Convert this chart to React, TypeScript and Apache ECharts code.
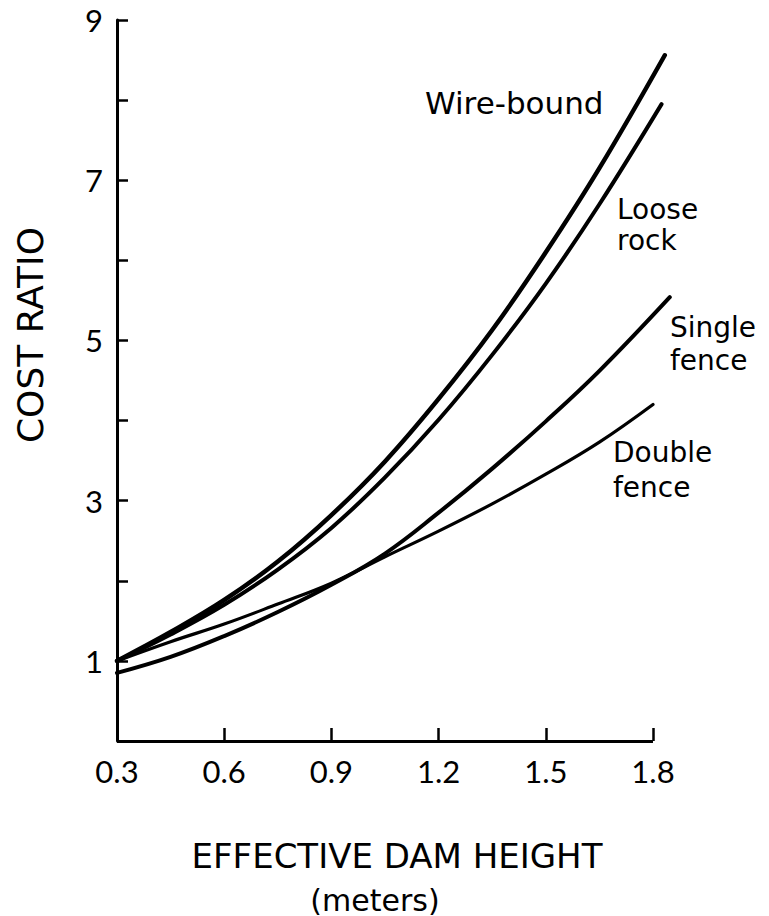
import React, { useEffect, useRef } from "react";
import * as echarts from "echarts";

// Effective dam height (m) sample points, and cost ratios
const heightGrid = [0.3, 0.45, 0.6, 0.75, 0.9, 1.05, 1.2, 1.35, 1.5, 1.65];
const wireBound = [1.0, 1.36, 1.76, 2.24, 2.82, 3.49, 4.27, 5.13, 6.1, 7.15];
const wireBoundEnd = [1.833, 8.56];
const looseRock = [1.0, 1.33, 1.7, 2.14, 2.66, 3.29, 4.01, 4.82, 5.71, 6.7];
const looseRockEnd = [1.824, 7.95];
const singleFence = [0.85, 1.05, 1.31, 1.61, 1.95, 2.34, 2.85, 3.4, 3.99, 4.62];
const singleFenceEnd = [1.847, 5.54];
const doubleFence = [1.0, 1.24, 1.46, 1.71, 1.97, 2.3, 2.62, 2.96, 3.33, 3.73];
const doubleFenceEnd = [1.8, 4.2];

const xTicks = [0.3, 0.6, 0.9, 1.2, 1.5, 1.8];
const yTickLabels = ["1", "3", "5", "7", "9"];

const seriesNames = ["Wire-bound", "Loose rock", "Single fence", "Double fence"];

const build = (vals: number[], end: number[]) =>
  heightGrid.map((x, i) => [x, vals[i]]).concat([end]);

export default function App() {
  const ref = useRef<HTMLDivElement>(null);
  useEffect(() => {
    document.body.style.margin = "0";
    if (!ref.current) return;
    const chart = echarts.init(ref.current, null, { renderer: "svg" });
    const labelFont = "DejaVu Sans";
    const lineSeries = (name: string, data: number[][], width: number, extra: any = {}) => ({
      name,
      type: "line",
      data,
      smooth: 0.4,
      symbol: "none",
      clip: false,
      lineStyle: { color: "#000", width, cap: "round" },
      z: 3,
      ...extra,
    });
    const xMin = xTicks[0];
    const xMax = xTicks[xTicks.length - 1];
    chart.setOption({
      animation: false,
      backgroundColor: "#fff",
      grid: { left: 117, right: 91, top: 20, bottom: 175, containLabel: false, outerBoundsMode: "none" },
      xAxis: {
        type: "value",
        min: 0.3,
        max: 1.87,
        axisLine: { show: false },
        axisTick: {
          show: true,
          inside: true,
          length: 13,
          customValues: xTicks,
          lineStyle: { color: "#000", width: 2.5 },
        },
        splitLine: { show: false },
        axisLabel: {
          margin: 14,
          color: "#000",
          fontFamily: "Lato",
          fontSize: 31,
          customValues: xTicks,
          formatter: (v: number) => v.toFixed(1),
        },
      },
      yAxis: {
        type: "value",
        min: 0,
        max: 9,
        interval: 1,
        axisLine: { show: true, lineStyle: { color: "#000", width: 3 } },
        axisTick: { show: true, inside: true, length: 11, lineStyle: { color: "#000", width: 2.5 } },
        splitLine: { show: false },
        axisLabel: {
          margin: 14,
          color: "#000",
          fontFamily: "Lato",
          fontSize: 31,
          formatter: (v: number) => {
            const s = String(Math.round(v));
            return yTickLabels.includes(s) ? s : "";
          },
        },
      },
      series: [
        lineSeries(seriesNames[0], build(wireBound, wireBoundEnd), 4.5, {
          markLine: {
            silent: true,
            symbol: ["none", "none"],
            label: { show: false },
            lineStyle: { color: "#000", width: 3, type: "solid" },
            data: [[{ coord: [xMin, 0] }, { coord: [xMax, 0] }]],
          },
        }),
        lineSeries(seriesNames[1], build(looseRock, looseRockEnd), 4),
        lineSeries(seriesNames[2], build(singleFence, singleFenceEnd), 4),
        lineSeries(seriesNames[3], build(doubleFence, doubleFenceEnd), 3.2),
      ],
      graphic: [
        {
          type: "text",
          x: 425,
          y: 103,
          style: { text: "Wire-bound", fill: "#000", font: `31px "${labelFont}"`, align: "left", verticalAlign: "middle" },
        },
        {
          type: "text",
          x: 617,
          y: 225,
          style: { text: "Loose\nrock", fill: "#000", font: `28px "${labelFont}"`, lineHeight: 31, align: "left", verticalAlign: "middle" },
        },
        {
          type: "text",
          x: 670,
          y: 344,
          style: { text: "Single\nfence", fill: "#000", font: `28px "${labelFont}"`, lineHeight: 33, align: "left", verticalAlign: "middle" },
        },
        {
          type: "text",
          x: 613,
          y: 470,
          style: { text: "Double\nfence", fill: "#000", font: `28px "${labelFont}"`, lineHeight: 35, align: "left", verticalAlign: "middle" },
        },
        {
          type: "text",
          x: 30,
          y: 335,
          rotation: Math.PI / 2,
          style: { text: "COST RATIO", fill: "#000", font: `36px "${labelFont}"`, align: "center", verticalAlign: "middle" },
        },
        {
          type: "text",
          x: 397,
          y: 856,
          style: { text: "EFFECTIVE DAM HEIGHT", fill: "#000", font: `34px "${labelFont}"`, align: "center", verticalAlign: "middle" },
        },
        {
          type: "text",
          x: 375,
          y: 900,
          style: { text: "(meters)", fill: "#000", font: `30px "${labelFont}"`, align: "center", verticalAlign: "middle" },
        },
      ],
    });
    return () => chart.dispose();
  }, []);
  return <div ref={ref} style={{ width: 769, height: 916 }} />;
}
